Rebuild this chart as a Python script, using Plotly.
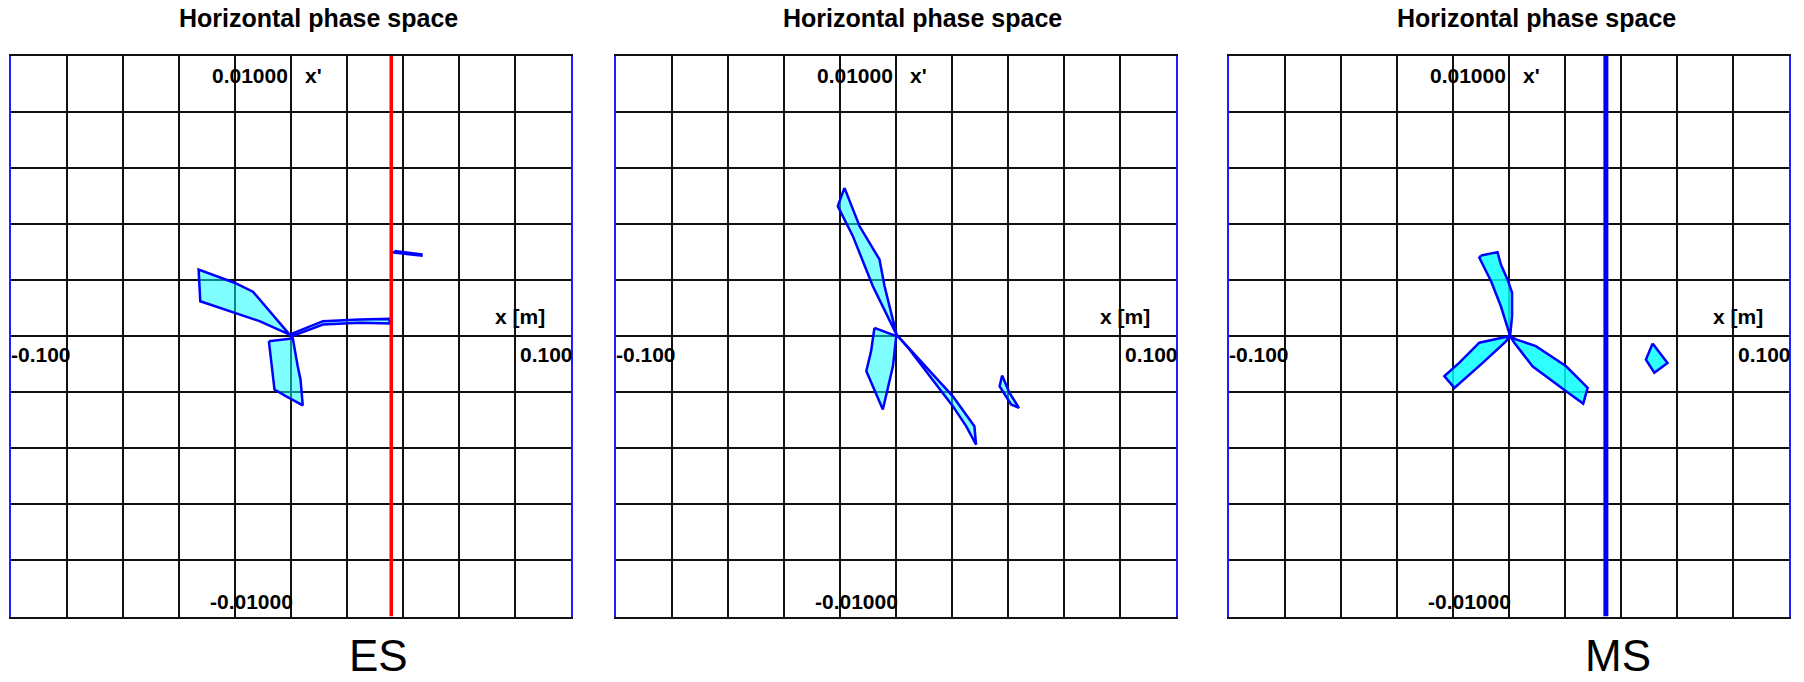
import plotly.graph_objects as go

W, H = 1804, 682

# ---------------- data ----------------
panel_titles = ["Horizontal phase space", "Horizontal phase space", "Horizontal phase space"]
panel_labels = ["ES", "", "MS"]
x_range = [-0.1, 0.1]
y_range = [-0.01, 0.01]
x_tick_labels = ["-0.100", "0.100"]
y_tick_labels = ["0.01000", "-0.01000"]
x_axis_title = "x [m]"
y_axis_title = "x'"

# panel 1 (ES) polygons
p1_a_x = [-0.0005, -0.0136, -0.0202, -0.0330, -0.0324, -0.0208, -0.01125, -0.0005]
p1_a_y = [0.00005, 0.00158, 0.00190, 0.00237, 0.00124, 0.00085, 0.00053, 0.00005]
p1_b_x = [-0.0079, -0.0059, -0.0017, 0.0042, 0.0034, 0.0024, 0.0006, -0.0005, -0.0079]
p1_b_y = [-0.000185, -0.00191, -0.00215, -0.00247, -0.00155, -0.00108, -0.00006, -0.0001, -0.000185]
p1_c_x = [-0.0005, 0.0114, 0.0245, 0.0352, 0.0352, 0.0245, 0.0114, 0.0, -0.0005]
p1_c_y = [0.00005, 0.00053, 0.00059, 0.00061, 0.00045, 0.00047, 0.00041, -0.00002, 0.00005]
p1_d_x = [0.0369, 0.0466, 0.0466, 0.0369, 0.0369]
p1_d_y = [0.00303, 0.00291, 0.00287, 0.00297, 0.00303]
p1_aperture_x = [0.0358, 0.0358]

# panel 2 polygons
p2_a_x = [-0.0184, -0.0130, -0.0059, -0.0041, 0.0002, -0.0083, -0.0154, -0.0208, -0.0184]
p2_a_y = [0.00528, 0.00391, 0.00273, 0.00178, 0.00005, 0.00178, 0.00356, 0.00463, 0.00528]
p2_b_x = [-0.0077, 0.0001, -0.0011, -0.0029, -0.0047, -0.0106, -0.0089, -0.0077]
p2_b_y = [0.00029, 0.0, -0.00108, -0.00191, -0.00262, -0.00125, -0.00054, 0.00029]
p2_c_x = [0.0002, 0.0084, 0.0203, 0.0280, 0.0286, 0.0251, 0.0203, 0.0048, 0.0002]
p2_c_y = [0.00005, -0.00084, -0.00215, -0.00322, -0.00387, -0.00322, -0.0025, -0.00048, 0.00005]
p2_d_x = [0.0379, 0.0370, 0.0411, 0.0439, 0.0405, 0.0388, 0.0379]
p2_d_y = [-0.00141, -0.00179, -0.00244, -0.00256, -0.00202, -0.00161, -0.00141]

# panel 3 (MS) polygons
p3_a_x = [-0.0100, -0.0041, -0.0029, -0.0005, 0.0011, 0.0011, 0.0004, -0.0029, -0.0064, -0.0106, -0.0100]
p3_a_y = [0.00287, 0.00299, 0.00255, 0.00201, 0.00154, 0.00071, 0.0, 0.00106, 0.00195, 0.00279, 0.00287]
p3_b_x = [0.0004, -0.0106, -0.0178, -0.0231, -0.0195, -0.0094, -0.0011, 0.0004]
p3_b_y = [0.0, -0.00024, -0.00096, -0.00143, -0.00185, -0.00096, -0.00019, 0.0]
p3_c_x = [0.0004, 0.0025, 0.0096, 0.0204, 0.0281, 0.0265, 0.0204, 0.0084, 0.0019, 0.0004]
p3_c_y = [0.0, -0.00012, -0.00036, -0.00108, -0.00185, -0.00241, -0.00197, -0.00108, -0.00024, 0.0]
p3_d_x = [0.0513, 0.0489, 0.0519, 0.0566, 0.0513]
p3_d_y = [-0.00027, -0.00084, -0.00131, -0.00096, -0.00027]
p3_aperture_x = [0.0346, 0.0346]

# ---------------- layout geometry ----------------
panel_left_px = [11, 616, 1229]
panel_w_px = 560
top_px, bottom_px = 55.5, 616.5

fig = go.Figure()

panels = [
    [(p1_a_x, p1_a_y), (p1_b_x, p1_b_y), (p1_c_x, p1_c_y), (p1_d_x, p1_d_y)],
    [(p2_a_x, p2_a_y), (p2_b_x, p2_b_y), (p2_c_x, p2_c_y), (p2_d_x, p2_d_y)],
    [(p3_a_x, p3_a_y), (p3_b_x, p3_b_y), (p3_c_x, p3_c_y), (p3_d_x, p3_d_y)],
]
fills = ["rgba(0,255,255,0.5)", "rgba(0,255,255,0.5)", "rgba(0,255,255,0.82)"]

for i, polys in enumerate(panels):
    xa = "x" if i == 0 else f"x{i+1}"
    ya = "y" if i == 0 else f"y{i+1}"
    for px, py in polys:
        fig.add_trace(go.Scatter(x=px, y=py, xaxis=xa, yaxis=ya, mode="lines",
                                 fill="toself", fillcolor=fills[i],
                                 line=dict(color="#0000FF", width=2.5),
                                 showlegend=False, hoverinfo="skip"))

fig.add_trace(go.Scatter(x=p1_aperture_x, y=y_range, xaxis="x", yaxis="y", mode="lines",
                         line=dict(color="#FF0000", width=3.5), showlegend=False, hoverinfo="skip"))
fig.add_trace(go.Scatter(x=p3_aperture_x, y=y_range, xaxis="x3", yaxis="y3", mode="lines",
                         line=dict(color="#0000FF", width=5), showlegend=False, hoverinfo="skip"))

y_dom = [1 - bottom_px / H, 1 - top_px / H]
axis_common = dict(showgrid=True, gridcolor="#111111", gridwidth=2,
                   zeroline=True, zerolinecolor="#111111", zerolinewidth=2,
                   showticklabels=False, ticks="", fixedrange=True, showline=True,
                   linewidth=2, mirror=True)

layout = dict(width=W, height=H, margin=dict(l=0, r=0, t=0, b=0),
              paper_bgcolor="white", plot_bgcolor="white", showlegend=False)

annotations = []
bold = dict(family="Liberation Sans, Arial, sans-serif", size=21, color="black")
for i in range(3):
    sfx = "" if i == 0 else str(i + 1)
    x0 = panel_left_px[i] / W
    x1 = (panel_left_px[i] + panel_w_px) / W
    layout["xaxis" + sfx] = dict(domain=[x0, x1], range=x_range, dtick=0.02, tick0=-0.1,
                                 linecolor="#111111", anchor="y" + sfx, **axis_common)
    layout["yaxis" + sfx] = dict(domain=y_dom, range=y_range, dtick=0.002, tick0=-0.01,
                                 linecolor="#2020FF", anchor="x" + sfx, **axis_common)
    xr, yr = "x" + sfx, "y" + sfx
    cx = (panel_left_px[i] + panel_w_px / 2 + 27) / W
    annotations.append(dict(text="<b>" + panel_titles[i] + "</b>", xref="paper", yref="paper",
                            x=cx, y=1 - 18 / H, xanchor="center", yanchor="middle", showarrow=False,
                            font=dict(family="Liberation Sans, Arial, sans-serif", size=25, color="black")))
    annotations.append(dict(text="<b>" + y_tick_labels[0] + "</b>", xref=xr, yref=yr, x=0, y=y_range[1],
                            xanchor="right", yanchor="middle", xshift=-1, yshift=-19.5,
                            showarrow=False, font=bold))
    annotations.append(dict(text="<b>" + y_axis_title + "</b>", xref=xr, yref=yr, x=0, y=y_range[1],
                            xanchor="left", yanchor="middle", xshift=12, yshift=-19.5,
                            showarrow=False, font=bold))
    annotations.append(dict(text="<b>" + y_tick_labels[1] + "</b>", xref=xr, yref=yr, x=0, y=y_range[0],
                            xanchor="right", yanchor="middle", xshift=4, yshift=15.5,
                            showarrow=False, font=bold))
    annotations.append(dict(text="<b>" + x_tick_labels[0] + "</b>", xref=xr, yref=yr, x=x_range[0], y=0,
                            xanchor="left", yanchor="middle", xshift=-2, yshift=-18.5,
                            showarrow=False, font=bold))
    annotations.append(dict(text="<b>" + x_tick_labels[1] + "</b>", xref=xr, yref=yr, x=x_range[1], y=0,
                            xanchor="right", yanchor="middle", xshift=4, yshift=-18.5,
                            showarrow=False, font=bold))
    annotations.append(dict(text="<b>" + x_axis_title + "</b>", xref=xr, yref=yr, x=x_range[1], y=0,
                            xanchor="right", yanchor="middle", xshift=-24, yshift=20,
                            showarrow=False, font=bold))

label_cx = [378, None, 1618]
for i, lab in enumerate(panel_labels):
    if lab:
        annotations.append(dict(text=lab, xref="paper", yref="paper", x=label_cx[i] / W, y=1 - 655 / H,
                                xanchor="center", yanchor="middle", showarrow=False,
                                font=dict(family="Liberation Sans, Arial, sans-serif", size=44, color="black")))

layout["annotations"] = annotations
fig.update_layout(**layout)
fig.write_html("out.html", config={"displayModeBar": False},
               post_script="document.body.style.margin='0px';document.body.style.overflow='hidden';")
